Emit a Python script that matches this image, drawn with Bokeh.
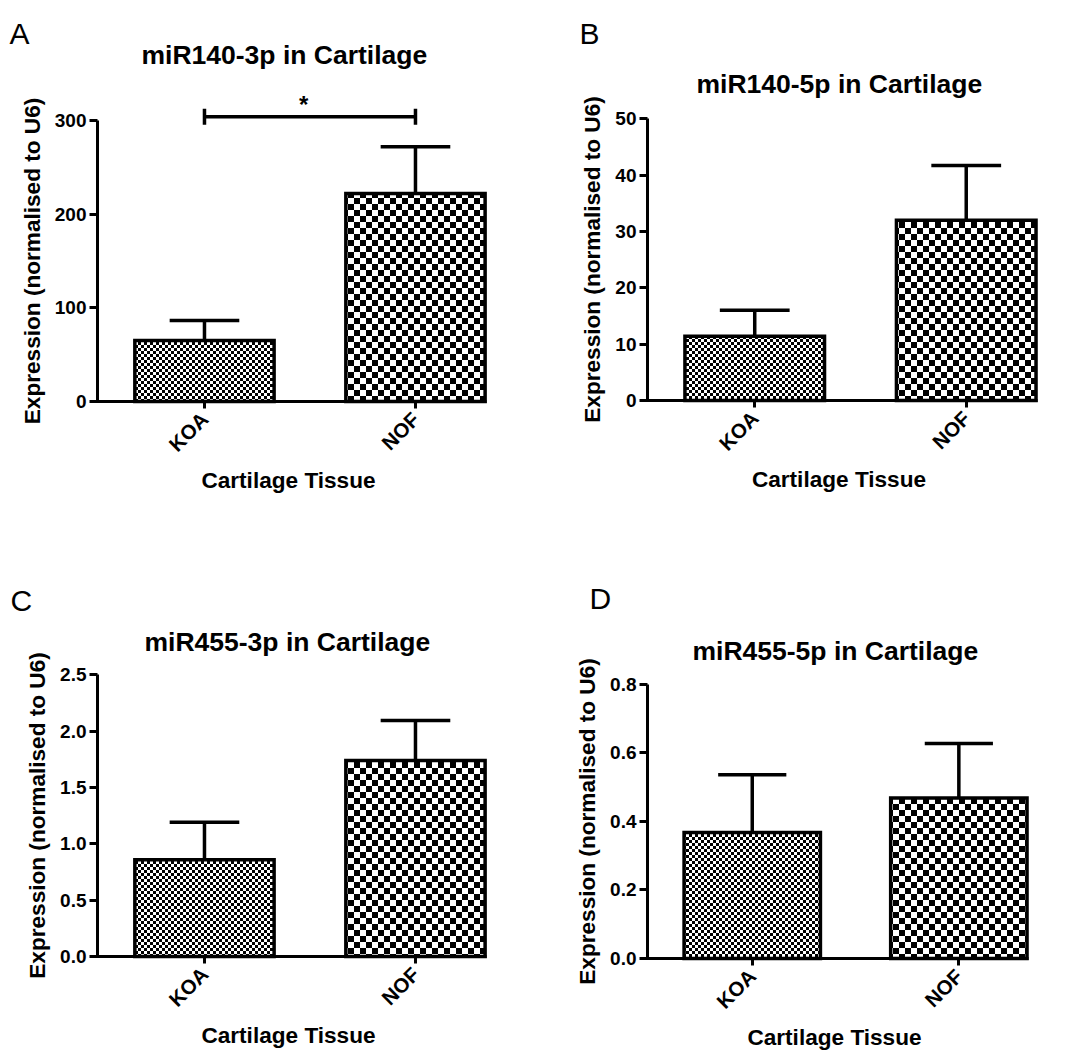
import math, zlib, struct, base64
from bokeh.plotting import figure
from bokeh.layouts import gridplot
from bokeh.models import (Range1d, FixedTicker, Label, ImageURLTexture, NumeralTickFormatter)
from bokeh.core.properties import value
from bokeh.embed import file_html
from bokeh.resources import INLINE

# ---------------- data ----------------
categories = ["KOA", "NOF"]
x_label = "Cartilage Tissue"
y_label = "Expression (normalised to U6)"

mir140_3p_mean = [65.0, 222.0]
mir140_3p_sem = [21.5, 50.0]
mir140_5p_mean = [11.4, 32.0]
mir140_5p_sem = [4.6, 9.7]
mir455_3p_mean = [0.858, 1.74]
mir455_3p_sem = [0.334, 0.355]
mir455_5p_mean = [0.367, 0.468]
mir455_5p_sem = [0.169, 0.159]

ticks_140_3p = [0, 100, 200, 300]
ticks_140_5p = [0, 10, 20, 30, 40, 50]
ticks_455_3p = [0, 0.5, 1.0, 1.5, 2.0, 2.5]
ticks_455_5p = [0, 0.2, 0.4, 0.6, 0.8]

sig_y_140_3p = 304      # level of the significance bracket (panel A)
sig_text = "*"

# ---------------- styling ----------------
FONT = "Liberation Sans"
BAR_W = 0.66
CAP_HALF = 0.165
CELL = [3, 6]            # checker cell size in px: fine for KOA, coarse for NOF
X_AXIS = -0.507          # x-data position of the y axis


def checker_png(cell):
    n = 2 * cell
    raw = bytearray()
    for y in range(n):
        raw.append(0)
        for x in range(n):
            raw.append(0 if ((x // cell) + (y // cell)) % 2 == 0 else 255)

    def chunk(tag, data):
        c = struct.pack(">I", len(data)) + tag + data
        return c + struct.pack(">I", zlib.crc32(tag + data) & 0xFFFFFFFF)

    png = b"\x89PNG\r\n\x1a\n"
    png += chunk(b"IHDR", struct.pack(">IIBBBBB", n, n, 8, 0, 0, 0, 0))
    png += chunk(b"IDAT", zlib.compress(bytes(raw)))
    png += chunk(b"IEND", b"")
    return "data:image/png;base64," + base64.b64encode(png).decode()


# page-pixel layout of each panel:
#   box = figure (left, top, width, height); axis_x = y-axis x; zero_y = x-axis y
#   ppx / ppy = pixels per data unit; let / tit = (x, baseline) of panel letter / title
panels = [
    dict(letter="A", title="miR140-3p in Cartilage", mean=mir140_3p_mean, sem=mir140_3p_sem,
         ticks=ticks_140_3p, fmt="0", box=(0, 0, 545, 540), axis_x=97, zero_y=401,
         ppx=211.0, ppy=281.0 / 300, let=(9, 33), tit=(141, 54.5), sig=sig_y_140_3p),
    dict(letter="B", title="miR140-5p in Cartilage", mean=mir140_5p_mean, sem=mir140_5p_sem,
         ticks=ticks_140_5p, fmt="0", box=(545, 0, 519, 540), axis_x=647, zero_y=400,
         ppx=211.5, ppy=281.7 / 50, let=(579, 33), tit=(696, 83.5), sig=None),
    dict(letter="C", title="miR455-3p in Cartilage", mean=mir455_3p_mean, sem=mir455_3p_sem,
         ticks=ticks_455_3p, fmt="0.0", box=(0, 540, 545, 512), axis_x=97, zero_y=956,
         ppx=211.0, ppy=281.7 / 2.5, let=(10, 600), tit=(144, 641.5), sig=None),
    dict(letter="D", title="miR455-5p in Cartilage", mean=mir455_5p_mean, sem=mir455_5p_sem,
         ticks=ticks_455_5p, fmt="0.0", box=(545, 540, 519, 512), axis_x=647, zero_y=958,
         ppx=206.6, ppy=274.4 / 0.8, let=(589, 598), tit=(692, 650), sig=None),
]


def make_panel(cfg):
    bx, by, bw, bh = cfg["box"]
    ppx, ppy = cfg["ppx"], cfg["ppy"]
    ax_x, z_y = cfg["axis_x"], cfg["zero_y"]

    def dx(px):
        return X_AXIS + (px - ax_x) / ppx

    def dy(py):
        return (z_y - py) / ppy

    p = figure(frame_width=bw, frame_height=bh, min_border=0,
               x_range=Range1d(dx(bx), dx(bx + bw)), y_range=Range1d(dy(by + bh), dy(by)),
               output_backend="svg", toolbar_location=None, tools="", title=None)
    p.outline_line_color = None
    p.xgrid.visible = False
    p.ygrid.visible = False
    p.background_fill_color = "white"
    p.border_fill_color = "white"

    for ax in (p.xaxis[0], p.yaxis[0]):
        ax.axis_line_width = 3
        ax.axis_line_color = "black"
        ax.major_tick_line_width = 3
        ax.major_tick_line_color = "black"
        ax.major_tick_in = 0
        ax.minor_tick_line_color = None
        ax.major_label_text_font = FONT
        ax.major_label_text_font_style = "bold"
        ax.major_label_text_font_size = "19px"
        ax.major_label_text_color = "black"
        ax.axis_label_text_font = FONT
        ax.axis_label_text_font_style = "bold"
        ax.axis_label_text_font_size = "22.6px"
        ax.axis_label_text_color = "black"

    ya = p.yaxis[0]
    ya.fixed_location = X_AXIS
    ya.ticker = FixedTicker(ticks=cfg["ticks"])
    ya.bounds = (0, cfg["ticks"][-1])
    ya.formatter = NumeralTickFormatter(format=cfg["fmt"])
    ya.axis_label = y_label
    ya.major_tick_out = 8
    ya.major_label_standoff = 3
    ya.axis_label_standoff = 7

    xs = list(range(len(categories)))
    xa = p.xaxis[0]
    xa.fixed_location = 0
    xa.ticker = FixedTicker(ticks=xs)
    xa.major_label_overrides = {i: c for i, c in enumerate(categories)}
    xa.major_label_orientation = math.pi / 4
    xa.major_label_text_font_size = "20.5px"
    xa.bounds = (X_AXIS - 7 / ppx, xs[-1] + BAR_W / 2 + 0.008)
    xa.axis_label = x_label
    xa.major_tick_out = 7
    xa.major_label_standoff = 7
    xa.axis_label_standoff = 1

    mean, sem = cfg["mean"], cfg["sem"]
    for i in xs:
        tex = ImageURLTexture(url=checker_png(CELL[i]), repetition="repeat")
        p.vbar(x=[i], top=[mean[i]], bottom=0, width=BAR_W,
               fill_color="white", line_color="black", line_width=3.5, line_join="miter",
               hatch_pattern=value("checker"), hatch_extra={"checker": tex},
               hatch_color="black", hatch_alpha=1.0)

    upper = [m + s for m, s in zip(mean, sem)]
    p.segment(x0=xs, y0=mean, x1=xs, y1=upper, line_color="black", line_width=3.5)
    p.segment(x0=[x - CAP_HALF for x in xs], y0=upper, x1=[x + CAP_HALF for x in xs], y1=upper,
              line_color="black", line_width=3.5)

    if cfg["sig"] is not None:
        sy = cfg["sig"]
        tick_h = 8 / ppy
        p.segment(x0=[xs[0]], y0=[sy], x1=[xs[-1]], y1=[sy], line_color="black", line_width=3.5)
        p.segment(x0=[xs[0], xs[-1]], y0=[sy - tick_h] * 2, x1=[xs[0], xs[-1]], y1=[sy + tick_h] * 2,
                  line_color="black", line_width=3.5)
        p.text(x=[(xs[0] + xs[-1]) / 2 - 0.03], y=[sy + 12 / ppy], text=[sig_text], text_align="center",
               text_baseline="alphabetic", text_font=value(FONT), text_font_style="bold",
               text_font_size="24px", text_color="black")

    lx, ly = cfg["let"]
    p.add_layout(Label(x=dx(lx), y=dy(ly), text=cfg["letter"],
                       text_font=FONT, text_font_size="30px", text_color="black",
                       text_align="left", text_baseline="alphabetic"))
    tx, ty = cfg["tit"]
    p.add_layout(Label(x=dx(tx), y=dy(ty), text=cfg["title"],
                       text_font=FONT, text_font_size="26.5px", text_font_style="bold",
                       text_color="black", text_align="left", text_baseline="alphabetic"))
    return p


figs = [make_panel(c) for c in panels]
grid = gridplot([[figs[0], figs[1]], [figs[2], figs[3]]], toolbar_location=None)

open("out.html", "w").write(file_html(grid, INLINE))
